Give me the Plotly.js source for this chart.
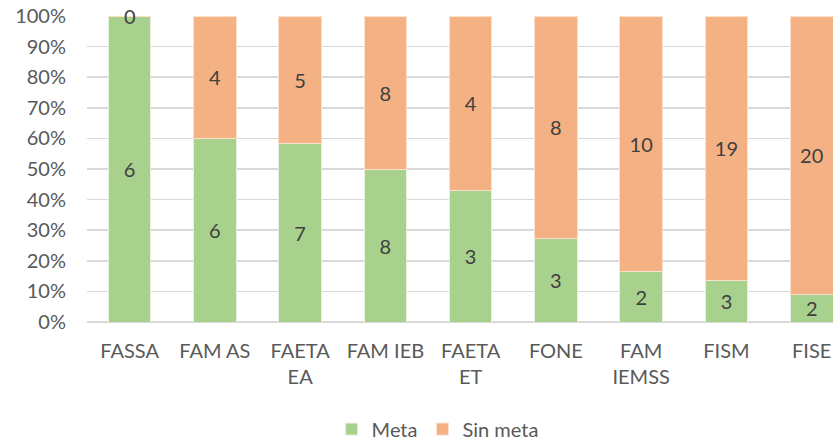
<!DOCTYPE html>
<html>
<head>
<meta charset="utf-8">
<script src="https://cdn.plot.ly/plotly-3.0.1.min.js"></script>
<style>
  html, body { margin: 0; padding: 0; background: white; }
  #chart { width: 838px; height: 446px; }
</style>
</head>
<body>
<div id="chart"></div>
<script>
// Fondos y número de indicadores con / sin meta
const categories = ['FASSA', 'FAM AS', 'FAETA<br>EA', 'FAM IEB', 'FAETA<br>ET', 'FONE', 'FAM<br>IEMSS', 'FISM', 'FISE'];
const metaValues = [6, 6, 7, 8, 3, 3, 2, 3, 2];
const sinMetaValues = [0, 4, 5, 8, 4, 8, 10, 19, 20];

const labelFont = { family: 'Lato, Carlito, sans-serif', size: 20, color: '#404040' };

const traces = [
  {
    x: categories,
    y: metaValues,
    type: 'bar',
    name: 'Meta',
    text: metaValues.map(String),
    texttemplate: '%{text}',
    textposition: 'inside',
    insidetextanchor: 'middle',
    textangle: 0,
    constraintext: 'none',
    insidetextfont: labelFont,
    hoverinfo: 'skip',
    marker: { color: '#A9D18E', line: { color: '#E6F2DD', width: 1 } }
  },
  {
    x: categories,
    y: sinMetaValues,
    type: 'bar',
    name: 'Sin meta',
    text: sinMetaValues.map(String),
    texttemplate: '%{text}',
    textposition: 'inside',
    insidetextanchor: 'middle',
    textangle: 0,
    constraintext: 'none',
    insidetextfont: labelFont,
    hoverinfo: 'skip',
    marker: { color: '#F4B183', line: { color: '#FBE0CC', width: 1 } }
  }
];

// zero-height segments still get their label, placed at the top of the stack
const annotations = [];
sinMetaValues.forEach((v, i) => {
  if (v === 0) {
    const total = metaValues[i] + v;
    annotations.push({
      x: categories[i], y: 100 * total / total,
      text: '0', showarrow: false, yanchor: 'middle',
      font: labelFont
    });
  }
});

const layout = {
  width: 838,
  height: 446,
  barmode: 'stack',
  barnorm: 'percent',
  bargap: 0.5,
  paper_bgcolor: 'white',
  plot_bgcolor: 'white',
  font: { family: 'Lato, Carlito, sans-serif', size: 20, color: '#595959' },
  margin: { l: 87, r: 5, t: 16, b: 124, autoexpand: false },
  xaxis: {
    type: 'category',
    range: [-0.5, 8.25],
    automargin: false,
    showgrid: false,
    zeroline: false,
    showline: false,
    ticks: '',
    ticklabelstandoff: 15,
    tickfont: { size: 20, color: '#595959' }
  },
  yaxis: {
    range: [0, 100],
    dtick: 10,
    ticksuffix: '%',
    automargin: false,
    showgrid: true,
    gridcolor: '#D9D9D9',
    gridwidth: 1.5,
    zeroline: true,
    zerolinecolor: '#D9D9D9',
    zerolinewidth: 1.5,
    ticklabelstandoff: 20,
    tickfont: { size: 20, color: '#595959' }
  },
  showlegend: true,
  legend: {
    orientation: 'h',
    x: 0.47,
    xanchor: 'center',
    y: -0.35,
    yanchor: 'middle',
    font: { size: 20, color: '#595959' },
    itemwidth: 30,
    traceorder: 'normal'
  },
  annotations: annotations
};

Plotly.newPlot('chart', traces, layout, { displayModeBar: false, staticPlot: true });
</script>
</body>
</html>
